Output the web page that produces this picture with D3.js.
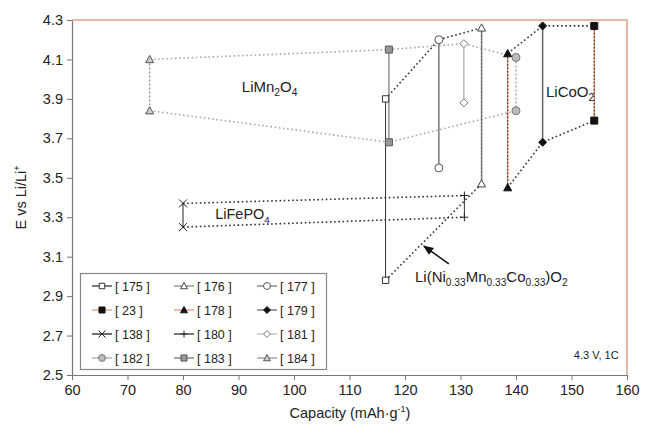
<!DOCTYPE html>
<html>
<head>
<meta charset="utf-8">
<script src="https://cdn.jsdelivr.net/npm/d3@7"></script>
<style>
  body { margin: 0; background: #fff; }
  text { font-family: "Liberation Sans", Arial, sans-serif; fill: #222; }
</style>
</head>
<body>
<svg id="chart" width="646" height="433"></svg>
<script>
// Reference numbers of each data set (legend order, row by row)
const refs = ["175", "176", "177", "23", "178", "179", "138", "180", "181", "182", "183", "184"];
// Discharge capacity of each data set (mAh/g)
const capacity = [116.5, 133.8, 126.1, 154.1, 138.5, 144.8, 80.0, 130.7, 130.6, 140.0, 117.1, 74.0];
// Upper and lower potential of each data set (V vs Li/Li+)
const eHigh = [3.90, 4.26, 4.20, 4.27, 4.13, 4.27, 3.37, 3.41, 4.18, 4.11, 4.15, 4.10];
const eLow  = [2.98, 3.47, 3.55, 3.79, 3.45, 3.68, 3.25, 3.30, 3.88, 3.84, 3.68, 3.84];

// Material envelopes: which data sets are joined along the upper and lower edges
const mnTop = ["184", "183", "181", "182"];
const mnBottom = ["184", "183", "182"];
const nmcTop = ["175", "177", "176"];
const nmcBottom = ["175", "176"];
const coTop = ["178", "179", "23"];
const coBottom = ["178", "179", "23"];
const feTop = ["138", "180"];
const feBottom = ["138", "180"];

// Axis ticks
const xTicks = [60, 70, 80, 90, 100, 110, 120, 130, 140, 150, 160];
const yTicks = [2.5, 2.7, 2.9, 3.1, 3.3, 3.5, 3.7, 3.9, 4.1, 4.3];

const W = 646, H = 433;
const m = { left: 72, right: 19, top: 20, bottom: 58 };
const svg = d3.select("#chart");

const x = d3.scaleLinear().domain([60, 160]).range([m.left, W - m.right]);
const y = d3.scaleLinear().domain([2.5, 4.3]).range([H - m.bottom, m.top]);

const idx = r => refs.indexOf(r);

// Custom marker shapes
const symX = { draw(ctx, size) { const r = Math.sqrt(size) / 2;
  ctx.moveTo(-r, -r); ctx.lineTo(r, r); ctx.moveTo(-r, r); ctx.lineTo(r, -r); } };
const symPlus = { draw(ctx, size) { const r = Math.sqrt(size) / 2;
  ctx.moveTo(-r, 0); ctx.lineTo(r, 0); ctx.moveTo(0, -r); ctx.lineTo(0, r); } };
const symTri = { draw(ctx, size) { const r = Math.sqrt(size) / 2;
  ctx.moveTo(0, -r); ctx.lineTo(r, r * 0.8); ctx.lineTo(-r, r * 0.8); ctx.closePath(); } };
const symDia = { draw(ctx, size) { const r = Math.sqrt(size) / 2;
  ctx.moveTo(0, -r); ctx.lineTo(r, 0); ctx.lineTo(0, r); ctx.lineTo(-r, 0); ctx.closePath(); } };

const ORANGE = "#e49d7c";
const style = {
  "175": { sym: d3.symbolSquare, size: 40, fill: "#fff", stroke: "#333", line: "#333", lw: 1 },
  "176": { sym: symTri, size: 64, fill: "#fff", stroke: "#444", line: "#8a8a8a", lw: 1.6, over: "#555" },
  "177": { sym: d3.symbolCircle, size: 50, fill: "#fff", stroke: "#555", line: "#777", lw: 1.5 },
  "23":  { sym: d3.symbolSquare, size: 49, fill: "#111", stroke: "#111", line: ORANGE, lw: 1.6, over: "#222", legendLine: ORANGE },
  "178": { sym: symTri, size: 64, fill: "#111", stroke: "#111", line: ORANGE, lw: 1.6, over: "#222", legendLine: ORANGE },
  "179": { sym: symDia, size: 64, fill: "#111", stroke: "#111", line: "#666", lw: 1.5 },
  "138": { sym: symX, size: 64, fill: "none", stroke: "#222", line: "#222", lw: 1 },
  "180": { sym: symPlus, size: 64, fill: "none", stroke: "#222", line: "#333", lw: 1 },
  "181": { sym: symDia, size: 64, fill: "#fff", stroke: "#777", line: "#bbb", lw: 1.5 },
  "182": { sym: d3.symbolCircle, size: 50, fill: "#bbb", stroke: "#777", line: "#aaa", lw: 1.5, dash: "2,2" },
  "183": { sym: d3.symbolSquare, size: 49, fill: "#999", stroke: "#555", line: "#777", lw: 1.2 },
  "184": { sym: symTri, size: 64, fill: "#ccc", stroke: "#555", line: "#999", lw: 1.5, dash: "2,2" }
};

// Axes
const yAxis = d3.axisLeft(y).tickValues(yTicks).tickFormat(d3.format(".1f")).tickSize(5).tickSizeOuter(0).tickPadding(4);
const xAxis = d3.axisBottom(x).tickValues(xTicks).tickFormat(d3.format("d")).tickSize(5).tickSizeOuter(0).tickPadding(5);

const gy = svg.append("g").attr("transform", `translate(${m.left},0)`).call(yAxis);
const gx = svg.append("g").attr("transform", `translate(0,${H - m.bottom})`).call(xAxis);
[gx, gy].forEach(g => {
  g.select(".domain").attr("stroke", "#777").attr("stroke-width", 1.2);
  g.selectAll(".tick line").attr("stroke", "#777");
  g.selectAll(".tick text").attr("font-size", 14.5).attr("fill", "#222")
    .attr("font-family", "'Liberation Sans', Arial, sans-serif");
});

// Plot-area frame: top and right edges
svg.append("path")
  .attr("d", `M${m.left},${m.top}H${W - m.right}V${H - m.bottom}`)
  .attr("fill", "none").attr("stroke", "#dca386").attr("stroke-width", 1.5);

// Axis titles
svg.append("text").attr("x", 350).attr("y", 418).attr("text-anchor", "middle").attr("font-size", 14.5)
  .call(t => {
    t.append("tspan").text("Capacity (mAh\u00b7g");
    t.append("tspan").attr("dy", -6).attr("font-size", 9).text("-1");
    t.append("tspan").attr("dy", 6).text(")");
  });
svg.append("text").attr("transform", `translate(26,${(m.top + H - m.bottom) / 2}) rotate(-90)`)
  .attr("text-anchor", "middle").attr("font-size", 14.5)
  .call(t => {
    t.append("tspan").text("E vs Li/Li");
    t.append("tspan").attr("dy", -6).attr("font-size", 9).text("+");
  });

// Envelope lines joining the data sets of one material
function envelope(list, values, color) {
  svg.append("path")
    .attr("d", d3.line().x(r => x(capacity[idx(r)])).y(r => y(values[idx(r)]))(list))
    .attr("fill", "none").attr("stroke", color).attr("stroke-width", 1.6)
    .attr("stroke-dasharray", "1.6,2.6");
}
envelope(mnTop, eHigh, "#a8a8a8");
envelope(mnBottom, eLow, "#a8a8a8");
envelope(nmcTop, eHigh, "#333");
envelope(nmcBottom, eLow, "#333");
envelope(coTop, eHigh, "#333");
envelope(coBottom, eLow, "#333");
envelope(feTop, eHigh, "#333");
envelope(feBottom, eLow, "#333");

// Vertical range line of each data set
refs.forEach((r, i) => {
  const s = style[r];
  const ln = svg.append("line")
    .attr("x1", x(capacity[i])).attr("x2", x(capacity[i]))
    .attr("y1", y(eHigh[i])).attr("y2", y(eLow[i]))
    .attr("stroke", s.line).attr("stroke-width", s.lw);
  if (s.dash) ln.attr("stroke-dasharray", s.dash);
  if (s.over) {
    svg.append("line")
      .attr("x1", x(capacity[i])).attr("x2", x(capacity[i]))
      .attr("y1", y(eHigh[i])).attr("y2", y(eLow[i]))
      .attr("stroke", s.over).attr("stroke-width", 1).attr("stroke-dasharray", "1.5,2");
  }
});

// Markers
const markers = svg.append("g");
refs.forEach((r, i) => {
  const s = style[r];
  [eHigh[i], eLow[i]].forEach(v => {
    markers.append("path")
      .attr("d", d3.symbol(s.sym, s.size)())
      .attr("transform", `translate(${x(capacity[i])},${y(v)})`)
      .attr("fill", s.fill).attr("stroke", s.stroke).attr("stroke-width", 1);
  });
});

// Material labels
function chem(xv, yv, parts, size) {
  const t = svg.append("text").attr("x", x(xv)).attr("y", y(yv)).attr("font-size", size);
  let shift = 0;
  parts.forEach(([txt, sub]) => {
    const target = sub ? 4 : 0;
    t.append("tspan").attr("dy", target - shift).attr("font-size", sub ? size * 0.68 : size).text(txt);
    shift = target;
  });
  return t;
}
chem(90.6, 3.935, [["LiMn", 0], ["2", 1], ["O", 0], ["4", 1]], 15);
chem(145.4, 3.91, [["LiCoO", 0], ["2", 1]], 15);
chem(85.8, 3.292, [["LiFePO", 0], ["4", 1]], 14.5);
chem(121.8, 2.97, [["Li(Ni", 0], ["0.33", 1], ["Mn", 0], ["0.33", 1], ["Co", 0], ["0.33", 1], [")O", 0], ["2", 1]], 15);

// Arrow to the Li(NiMnCo)O2 envelope
svg.append("defs").append("marker").attr("id", "head")
  .attr("viewBox", "0 0 10 10").attr("refX", 9).attr("refY", 5)
  .attr("markerWidth", 7).attr("markerHeight", 7).attr("orient", "auto")
  .append("path").attr("d", "M0,1L10,5L0,9Z").attr("fill", "#111");
svg.append("line")
  .attr("x1", x(127.9)).attr("y1", y(3.063)).attr("x2", x(123.4)).attr("y2", y(3.154))
  .attr("stroke", "#111").attr("stroke-width", 1.5).attr("marker-end", "url(#head)");

// Test condition note
svg.append("text").attr("x", x(158.5)).attr("y", y(2.58)).attr("text-anchor", "end")
  .attr("font-size", 11).text("4.3 V, 1C");

// Legend
const lg = svg.append("g");
lg.append("rect").attr("x", 80.5).attr("y", 273.5).attr("width", 246).attr("height", 96)
  .attr("fill", "#fff").attr("stroke", "#888").attr("stroke-width", 1.2);
const colX = [92, 174, 257];
const rowY = [286, 310, 334, 358];
refs.forEach((r, i) => {
  const s = style[r];
  const cx = colX[i % 3], cy = rowY[Math.floor(i / 3)];
  lg.append("line").attr("x1", cx).attr("x2", cx + 20).attr("y1", cy).attr("y2", cy)
    .attr("stroke", s.legendLine || s.line).attr("stroke-width", 1.3);
  lg.append("path").attr("d", d3.symbol(s.sym, s.size * 0.75)())
    .attr("transform", `translate(${cx + 10},${cy})`)
    .attr("fill", s.fill).attr("stroke", s.stroke).attr("stroke-width", 1);
  lg.append("text").attr("x", cx + 23).attr("y", cy + 4.5).attr("font-size", 12.5).text(`[ ${r} ]`);
});
</script>
</body>
</html>
